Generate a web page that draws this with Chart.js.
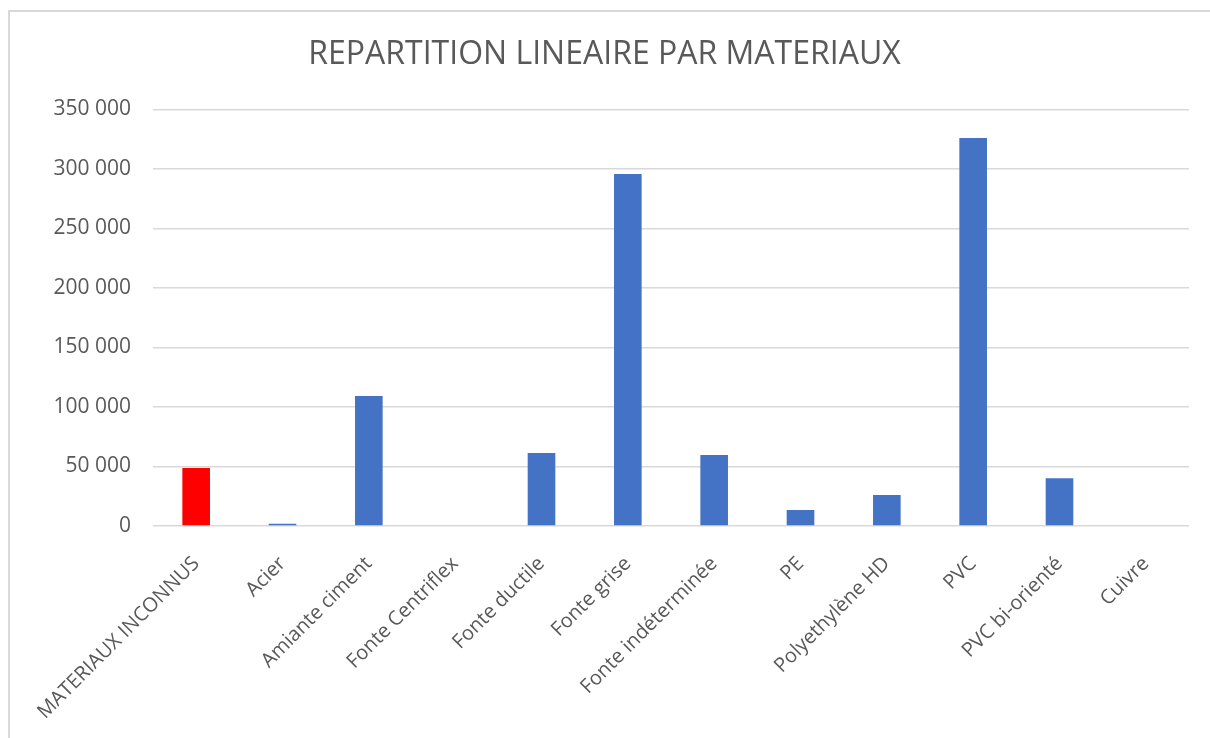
<!DOCTYPE html>
<html>
<head>
<meta charset="utf-8">
<script src="https://cdn.jsdelivr.net/npm/chart.js@4.4.1/dist/chart.umd.min.js"></script>
<style>
    html, body { margin: 0; padding: 0; background: #fff; overflow: hidden; }
    #wrap { position: absolute; left: 0; top: 0; width: 1210px; height: 738px; }
    #frame { position: absolute; left: 8px; top: 10px; width: 1230px; height: 760px;
             border: 2px solid #d9d9d9; box-sizing: border-box; }
</style>
</head>
<body>
<div id="frame"></div>
<div id="wrap"><canvas id="chart" width="1210" height="738"></canvas></div>
<script>
(function () {
    'use strict';

    // ── Data ──────────────────────────────────────────────────────────────────

    var categories = [
        'MATERIAUX INCONNUS', 'Acier', 'Amiante ciment', 'Fonte Centriflex',
        'Fonte ductile', 'Fonte grise', 'Fonte indéterminée', 'PE',
        'Polyethylène HD', 'PVC', 'PVC bi-orienté', 'Cuivre'
    ];
    var lengths = [48700, 1800, 109200, 0, 61300, 295800, 59700, 13400, 26000, 326000, 40100, 0];
    var barColors = ['#ff0000', '#4472c4', '#4472c4', '#4472c4', '#4472c4', '#4472c4',
                     '#4472c4', '#4472c4', '#4472c4', '#4472c4', '#4472c4', '#4472c4'];
    var yTicks = [0, 50000, 100000, 150000, 200000, 250000, 300000, 350000];

    function fmt(v) {
        return String(v).replace(/\B(?=(\d{3})+(?!\d))/g, ' ');
    }

    var font = "'Open Sans', 'Liberation Sans', sans-serif";

    // ── Chart ─────────────────────────────────────────────────────────────────

    new Chart(document.getElementById('chart').getContext('2d'), {
        type: 'bar',
        data: {
            labels: categories,
            datasets: [{
                label: 'Linéaire',
                data: lengths,
                backgroundColor: barColors,
                borderWidth: 0,
                barPercentage: 0.32,
                categoryPercentage: 1.0
            }]
        },
        options: {
            responsive: false,
            animation: false,
            layout: { padding: { left: 20, right: 21, top: 36, bottom: 0 } },
            plugins: {
                legend: { display: false },
                tooltip: { enabled: false },
                title: {
                    display: true,
                    text: 'REPARTITION LINEAIRE PAR MATERIAUX',
                    color: '#595959',
                    font: { family: font, size: 32, weight: 'normal' },
                    padding: { top: 0, bottom: 35 }
                }
            },
            scales: {
                x: {
                    grid: { display: false, drawTicks: false },
                    border: { display: false },
                    ticks: {
                        color: '#595959',
                        font: { family: font, size: 20 },
                        minRotation: 45,
                        maxRotation: 45,
                        autoSkip: false,
                        padding: 26
                    },
                    afterFit: function (scale) { scale.height = 212; }
                },
                y: {
                    min: 0,
                    max: 350000,
                    grid: { color: '#d9d9d9', lineWidth: 1.5, drawTicks: false },
                    border: { display: false },
                    afterBuildTicks: function (scale) {
                        scale.ticks = yTicks.map(function (v) { return { value: v }; });
                    },
                    ticks: {
                        color: '#595959',
                        font: { family: font, size: 21 },
                        padding: 22,
                        callback: function (v) { return fmt(v); }
                    },
                    afterFit: function (scale) { scale.width = 133; }
                }
            }
        }
    });

}());
</script>
</body>
</html>
